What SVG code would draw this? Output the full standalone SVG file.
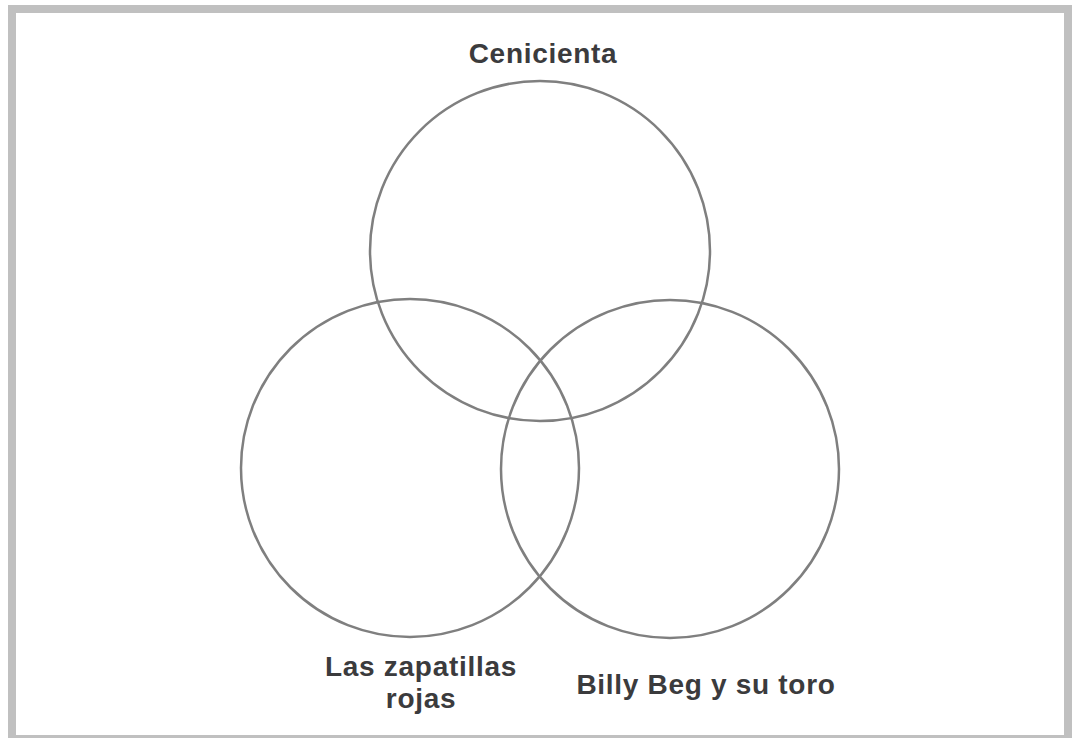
<svg xmlns="http://www.w3.org/2000/svg" width="1076" height="738" viewBox="0 0 1076 738">
<style>
.set{fill:none;stroke:#7f7f7f;stroke-width:2.5}
.lbl{font-family:"Liberation Sans",Arial,sans-serif;font-weight:bold;font-size:28px;letter-spacing:0.7px;fill:#3b3b3d;text-anchor:middle}
</style>
<rect x="0" y="0" width="1076" height="738" fill="#ffffff"/>
<rect x="12" y="9" width="1056" height="730" fill="none" stroke="#c0c0c0" stroke-width="8"/>
<g id="cenicienta">
<circle class="set" cx="540" cy="251" r="170"/>
<text class="lbl" x="543" y="63">Cenicienta</text>
</g>
<g id="zapatillas">
<circle class="set" cx="410" cy="468" r="169"/>
<text class="lbl" x="421" y="676">Las zapatillas</text>
<text class="lbl" x="421" y="708">rojas</text>
</g>
<g id="billy">
<circle class="set" cx="670" cy="469" r="169"/>
<text class="lbl" x="706" y="694">Billy Beg y su toro</text>
</g>
<g id="connectors"></g>
</svg>
